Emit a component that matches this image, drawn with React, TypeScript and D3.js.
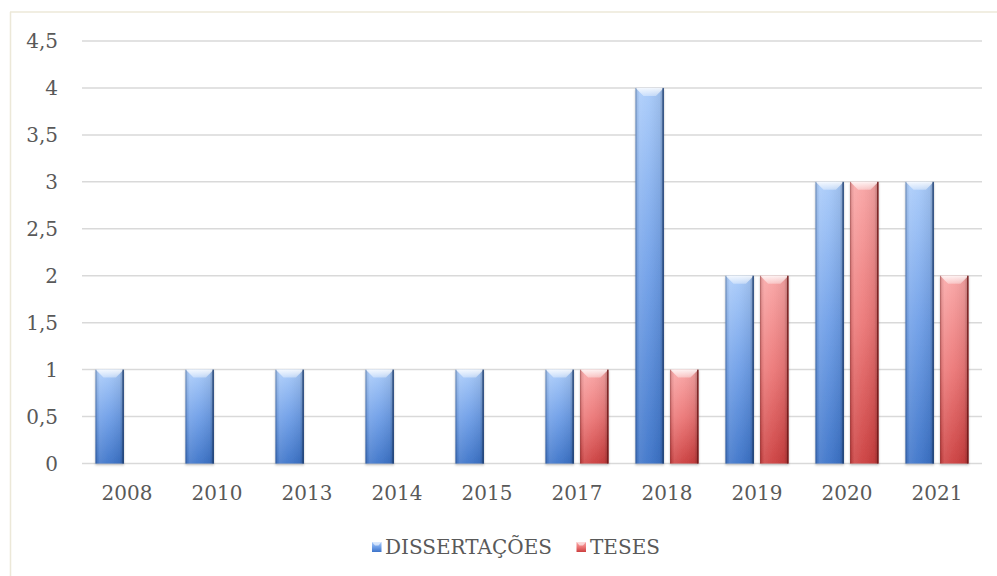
import React from "react";
import * as d3 from "d3";

const years = ["2008", "2010", "2013", "2014", "2015", "2017", "2018", "2019", "2020", "2021"];
const dissertacoes = [1, 1, 1, 1, 1, 1, 4, 2, 3, 3];
const teses = [0, 0, 0, 0, 0, 1, 1, 2, 3, 2];
const yTicks = [0, 0.5, 1, 1.5, 2, 2.5, 3, 3.5, 4, 4.5];
const seriesNames = ["DISSERTAÇÕES", "TESES"];

const W = 997;
const H = 576;
const FONT = "'DejaVu Serif', 'Liberation Serif', serif";

export default function App() {
  const x0 = d3.scaleBand<string>().domain(years).range([82, 982]).paddingInner(0.3).paddingOuter(0.15);
  const x1 = d3.scaleBand<string>().domain(["d", "t"]).range([0, x0.bandwidth()]).paddingInner(0.18);
  const y = d3.scaleLinear().domain([0, 4.5]).range([463.5, 41]);
  const fmt = (v: number) => String(v).replace(".", ",");

  const series = [
    { key: "d", values: dissertacoes, grad: "gBlue", edge: "#1e3f73" },
    { key: "t", values: teses, grad: "gRed", edge: "#6e1515" },
  ];

  const bar = (xPos: number, yTop: number, w: number, h: number, grad: string, edge: string, k: string) => {
    const b = Math.min(8, h / 2);
    return (
      <g key={k} filter="url(#shadow)">
        <rect x={xPos} y={yTop} width={w} height={h} fill={`url(#${grad})`} />
        <rect x={xPos} y={yTop} width={w} height={h} fill="url(#gShade)" />
        <polygon
          points={`${xPos},${yTop} ${xPos + w},${yTop} ${xPos + w - b},${yTop + b} ${xPos + b},${yTop + b}`}
          fill="url(#gBevel)"
        />
        <rect x={xPos + w - 1.5} y={yTop} width={1.5} height={h} fill={edge} opacity={0.8} />
        <rect x={xPos} y={yTop} width={1} height={h} fill={edge} opacity={0.35} />
      </g>
    );
  };

  return (
    <svg width={W} height={H} style={{ position: "absolute", left: 0, top: 0, background: "#fff" }}>
      <defs>
        <linearGradient id="gBlue" x1="0" y1="0" x2="0" y2="1">
          <stop offset="0" stopColor="#a9cbfa" />
          <stop offset="0.5" stopColor="#6f9fe8" />
          <stop offset="1" stopColor="#3d74c9" />
        </linearGradient>
        <linearGradient id="gRed" x1="0" y1="0" x2="0" y2="1">
          <stop offset="0" stopColor="#f9a5a5" />
          <stop offset="0.5" stopColor="#ec7777" />
          <stop offset="1" stopColor="#cc3f3f" />
        </linearGradient>
        <linearGradient id="gShade" x1="0" y1="0" x2="1" y2="0">
          <stop offset="0" stopColor="#000" stopOpacity="0.12" />
          <stop offset="0.15" stopColor="#fff" stopOpacity="0.12" />
          <stop offset="0.45" stopColor="#fff" stopOpacity="0.05" />
          <stop offset="0.85" stopColor="#000" stopOpacity="0.06" />
          <stop offset="1" stopColor="#000" stopOpacity="0.3" />
        </linearGradient>
        <linearGradient id="gBevel" x1="0" y1="0" x2="0" y2="1">
          <stop offset="0" stopColor="#fff" stopOpacity="0.85" />
          <stop offset="1" stopColor="#fff" stopOpacity="0.35" />
        </linearGradient>
        <filter id="shadow" x="-20%" y="-5%" width="140%" height="115%">
          <feDropShadow dx="0" dy="1.5" stdDeviation="1.2" floodColor="#000" floodOpacity="0.25" />
        </filter>
      </defs>

      {/* border */}
      <line x1={10.5} y1={12} x2={10.5} y2={H} stroke="#ece8d8" strokeWidth={1.5} />
      <line x1={10} y1={12} x2={W} y2={12} stroke="#ece8d8" strokeWidth={1.5} />

      {/* gridlines */}
      {yTicks.map((t) => (
        <line key={t} x1={82} x2={982} y1={y(t)} y2={y(t)} stroke="#d9d9d9" strokeWidth={1.5} />
      ))}

      {/* y labels */}
      {yTicks.map((t) => (
        <text key={t} x={58} y={y(t)} dy="0.36em" textAnchor="end" fontFamily={FONT} fontSize={20} fill="#595959">
          {fmt(t)}
        </text>
      ))}

      {/* bars */}
      {series.map((s) =>
        s.values.map((v, i) => {
          if (v <= 0) return null;
          const xp = (x0(years[i]) as number) + (x1(s.key) as number);
          return bar(xp, y(v), x1.bandwidth(), y(0) - y(v), s.grad, s.edge, s.key + i);
        })
      )}

      {/* x labels */}
      {years.map((yr) => (
        <text key={yr} x={(x0(yr) as number) + x0.bandwidth() / 2} y={500} textAnchor="middle" fontFamily={FONT} fontSize={20} fill="#595959">
          {yr}
        </text>
      ))}

      {/* legend */}
      <g>
        <rect x={372} y={542} width={9.5} height={10} fill="url(#gBlue)" />
        <polygon points="372,542 381.5,542 378.5,545.5 375,545.5" fill="#fff" opacity={0.6} />
        <text x={385} y={554} fontFamily={FONT} fontSize={20} fill="#595959">{seriesNames[0]}</text>
        <rect x={576.5} y={542} width={9.5} height={10} fill="url(#gRed)" />
        <polygon points="576.5,542 586,542 583,545.5 579.5,545.5" fill="#fff" opacity={0.6} />
        <text x={590} y={554} fontFamily={FONT} fontSize={20} fill="#595959">{seriesNames[1]}</text>
      </g>
    </svg>
  );
}
